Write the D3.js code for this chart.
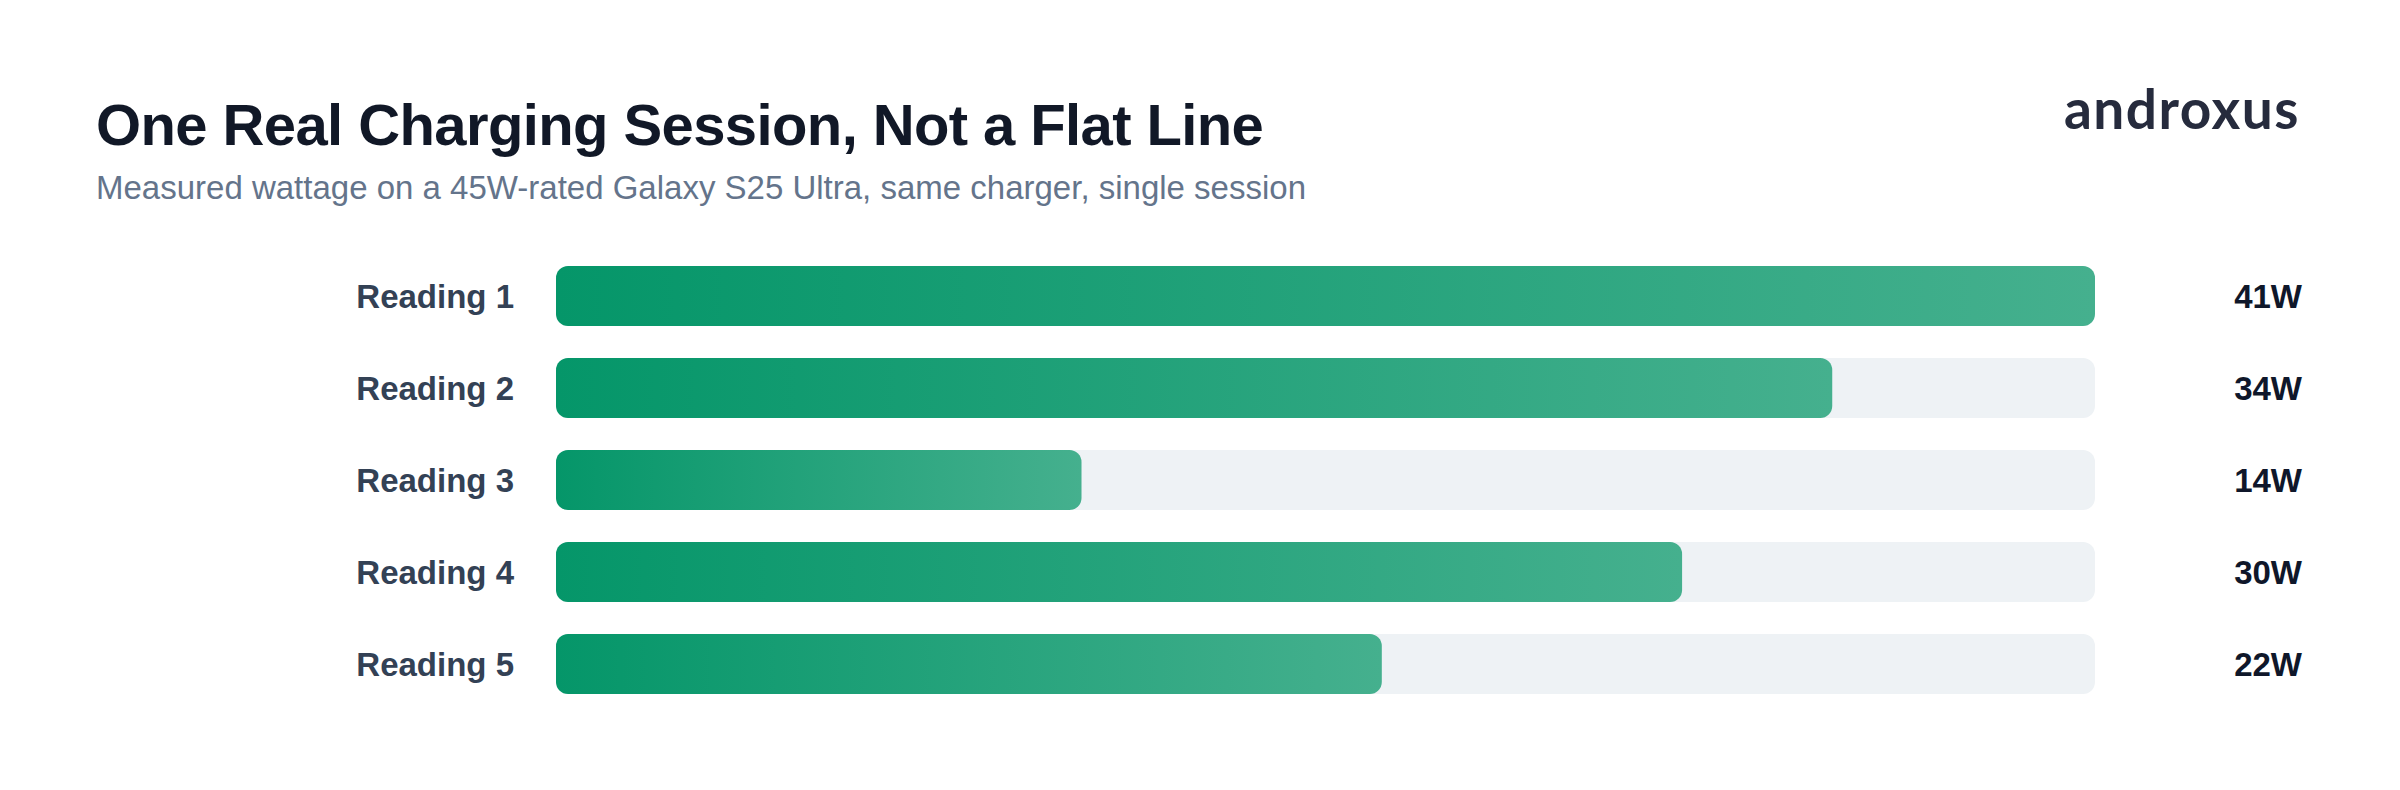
<!DOCTYPE html>
<html>
<head>
<meta charset="utf-8">
<script src="https://cdnjs.cloudflare.com/ajax/libs/d3/7.8.5/d3.min.js"></script>
<style>
  html, body { margin: 0; padding: 0; background: #ffffff; }
  svg { display: block; }
</style>
</head>
<body>
<div id="chart"></div>
<script>
const width = 2400;
const height = 790;

const readings = ["Reading 1", "Reading 2", "Reading 3", "Reading 4", "Reading 5"];
const watts = [41, 34, 14, 30, 22];
const maxWatts = 41;

const titleText = "One Real Charging Session, Not a Flat Line";
const subtitleText = "Measured wattage on a 45W-rated Galaxy S25 Ultra, same charger, single session";
const brandText = "androxus";

const margin = {left: 556, right: 305, top: 266};
const rowStep = 92;
const barH = 60;

const svg = d3.select("#chart").append("svg")
    .attr("width", width)
    .attr("height", height);

svg.append("rect").attr("width", width).attr("height", height).attr("fill", "#ffffff");

// gradient for the filled part of each bar
const defs = svg.append("defs");
const grad = defs.append("linearGradient")
    .attr("id", "barGrad")
    .attr("x1", "0%").attr("x2", "100%")
    .attr("y1", "0%").attr("y2", "0%");
grad.append("stop").attr("offset", "0%").attr("stop-color", "#059669");
grad.append("stop").attr("offset", "100%").attr("stop-color", "#45b08e");

// header
svg.append("text")
    .attr("x", 96).attr("y", 145)
    .attr("font-family", "Liberation Sans, Arial, sans-serif")
    .attr("font-weight", 700)
    .attr("font-size", 58)
    .attr("letter-spacing", -0.6)
    .attr("fill", "#111827")
    .text(titleText);

svg.append("text")
    .attr("x", 96).attr("y", 199)
    .attr("font-family", "Liberation Sans, Arial, sans-serif")
    .attr("font-size", 33)
    .attr("fill", "#64748b")
    .text(subtitleText);

svg.append("text")
    .attr("x", 2300).attr("y", 129)
    .attr("text-anchor", "end")
    .attr("font-family", "Lato, Inter, sans-serif")
    .attr("font-weight", 700)
    .attr("font-size", 55)
    .attr("letter-spacing", 1.5)
    .attr("fill", "#262b3d")
    .text(brandText);

// scales
const x = d3.scaleLinear()
    .domain([0, maxWatts])
    .range([margin.left, width - margin.right]);

const y = d3.scaleBand()
    .domain(readings)
    .range([margin.top, margin.top + rowStep * readings.length - (rowStep - barH)])
    .paddingInner((rowStep - barH) / rowStep)
    .paddingOuter(0);

const data = readings.map(function(r, i) { return {label: r, value: watts[i]}; });

const rows = svg.append("g").selectAll("g")
    .data(data)
    .enter().append("g");

// background track
rows.append("rect")
    .attr("x", x(0))
    .attr("y", function(d) { return y(d.label); })
    .attr("width", x(maxWatts) - x(0))
    .attr("height", y.bandwidth())
    .attr("rx", 12)
    .attr("fill", "#eef2f5");

// value bar
rows.append("rect")
    .attr("x", x(0))
    .attr("y", function(d) { return y(d.label); })
    .attr("width", function(d) { return x(d.value) - x(0); })
    .attr("height", y.bandwidth())
    .attr("rx", 12)
    .attr("fill", "url(#barGrad)");

// category labels
rows.append("text")
    .attr("x", 514)
    .attr("y", function(d) { return y(d.label) + y.bandwidth() / 2; })
    .attr("dy", "0.35em")
    .attr("text-anchor", "end")
    .attr("font-family", "Liberation Sans, Arial, sans-serif")
    .attr("font-weight", 700)
    .attr("font-size", 33)
    .attr("fill", "#334155")
    .text(function(d) { return d.label; });

// value labels
rows.append("text")
    .attr("x", 2302)
    .attr("y", function(d) { return y(d.label) + y.bandwidth() / 2; })
    .attr("dy", "0.35em")
    .attr("text-anchor", "end")
    .attr("font-family", "Liberation Sans, Arial, sans-serif")
    .attr("font-weight", 700)
    .attr("font-size", 33)
    .attr("fill", "#0f172a")
    .text(function(d) { return d.value + "W"; });
</script>
</body>
</html>
